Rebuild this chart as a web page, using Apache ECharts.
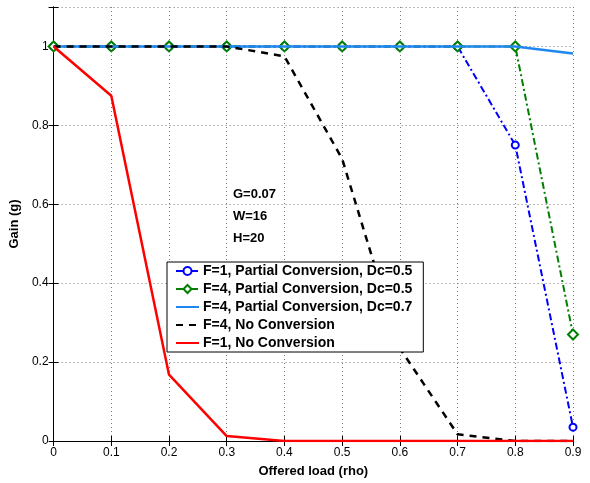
<!DOCTYPE html>
<html>
<head>
<meta charset="utf-8">
<script src="https://cdn.jsdelivr.net/npm/echarts@6/dist/echarts.min.js"></script>
<style>
  html, body { margin: 0; padding: 0; background: #fff; }
  #chart { width: 590px; height: 483px; }
</style>
</head>
<body>
<div id="chart"></div>
<script>
// offered load (rho)
const rho = [0, 0.1, 0.2, 0.3, 0.4, 0.5, 0.6, 0.7, 0.8, 0.9]
const xTicks = ['0', '0.1', '0.2', '0.3', '0.4', '0.5', '0.6', '0.7', '0.8', '0.9']

// gain values per curve
const f1PartialDc05 = [1, 1, 1, 1, 1, 1, 1, 1, 0.75, 0.035]
const f4PartialDc05 = [1, 1, 1, 1, 1, 1, 1, 1, 1, 0.27]
const f4PartialDc07 = [1, 1, 1, 1, 1, 1, 1, 1, 1, 0.982]
const f4NoConv = [1, 1, 1, 1, 0.975, 0.715, 0.235, 0.017, 0, 0]
const f1NoConv = [1, 0.875, 0.168, 0.0125, 0, 0, 0, 0, 0, 0]

const seriesNames = [
  'F=1, Partial Conversion, Dc=0.5',
  'F=4, Partial Conversion, Dc=0.5',
  'F=4, Partial Conversion, Dc=0.7',
  'F=4, No Conversion',
  'F=1, No Conversion'
]

const pairs = (ys) => rho.map((x, i) => [x, ys[i]])

const chart = echarts.init(document.getElementById('chart'))
const font = 'Liberation Sans, Arial, Helvetica, sans-serif'

const gridLine = { show: true, lineStyle: { color: '#777', type: [1, 3], width: 1 } }
// plain line icon in legend (hide the default symbol)
const noSymbol = { color: 'rgba(0,0,0,0)', borderWidth: 0 }

const option = {
  animation: false,
  backgroundColor: '#fff',
  textStyle: { fontFamily: font },
  grid: { left: 51, right: 17, top: 7, bottom: 36 },
  legend: {
    left: 167,
    top: 262,
    z: 20,
    orient: 'vertical',
    backgroundColor: '#fff',
    borderColor: '#000',
    borderWidth: 1,
    borderRadius: 0,
    padding: [2, 11, 2, 8],
    itemGap: 4,
    itemWidth: 23,
    itemHeight: 10,
    data: [
      { name: seriesNames[0] },
      { name: seriesNames[1] },
      { name: seriesNames[2], itemStyle: noSymbol },
      { name: seriesNames[3], itemStyle: noSymbol },
      { name: seriesNames[4], itemStyle: noSymbol }
    ],
    textStyle: { fontSize: 14, fontWeight: 'bold', color: '#000', fontFamily: font, padding: [0, 0, 0, -1] }
  },
  graphic: [
    {
      type: 'text',
      left: 233,
      top: 183,
      style: {
        text: 'G=0.07\nW=16\nH=20',
        font: 'bold 13px ' + font,
        lineHeight: 22,
        fill: '#000'
      }
    }
  ],
  xAxis: [
    {
      type: 'value',
      min: 0,
      max: 0.9,
      interval: 0.1,
      name: 'Offered load (rho)',
      nameLocation: 'middle',
      nameGap: 24,
      nameTextStyle: { fontSize: 13, fontWeight: 'bold', color: '#000' },
      axisLine: { lineStyle: { color: '#000', width: 1 } },
      axisTick: { inside: true, length: 5, lineStyle: { color: '#000' } },
      axisLabel: {
        color: '#000',
        fontSize: 12,
        margin: 6,
        formatter: (v) => xTicks[Math.round(v * 10)]
      },
      splitLine: gridLine
    },
    {
      type: 'value',
      position: 'top',
      min: 0,
      max: 0.9,
      interval: 0.1,
      axisLine: { show: true, lineStyle: { color: '#000', width: 1 } },
      axisTick: { inside: true, length: 5, lineStyle: { color: '#000' } },
      axisLabel: { show: false },
      splitLine: { show: false }
    }
  ],
  yAxis: [
    {
      type: 'value',
      min: 0,
      max: 1.1,
      interval: 0.2,
      name: 'Gain (g)',
      nameLocation: 'middle',
      nameGap: 23,
      nameTextStyle: { fontSize: 13, fontWeight: 'bold', color: '#000' },
      axisLine: { show: true, lineStyle: { color: '#000', width: 1 } },
      axisTick: { inside: true, length: 5, lineStyle: { color: '#000' } },
      axisLabel: {
        color: '#000',
        fontSize: 12,
        margin: 5,
        formatter: (v) => (v > 1.05 ? '' : String(Math.round(v * 10) / 10))
      },
      splitLine: gridLine
    },
    {
      type: 'value',
      position: 'right',
      min: 0,
      max: 1.1,
      interval: 0.2,
      axisLine: { show: true, lineStyle: { color: '#000', width: 1 } },
      axisTick: { inside: true, length: 5, lineStyle: { color: '#000' } },
      axisLabel: { show: false },
      splitLine: { show: false }
    }
  ],
  series: [
    {
      name: seriesNames[0],
      type: 'line',
      data: pairs(f1PartialDc05),
      symbol: 'circle',
      symbolSize: 7,
      itemStyle: { color: '#fff', borderColor: '#0000ff', borderWidth: 2 },
      lineStyle: { color: '#0000ff', width: 2, type: [7, 3, 2, 3] },
      z: 2
    },
    {
      name: seriesNames[1],
      type: 'line',
      data: pairs(f4PartialDc05),
      symbol: 'diamond',
      symbolSize: 10,
      itemStyle: { color: '#fff', borderColor: '#007f00', borderWidth: 2 },
      lineStyle: { color: '#007f00', width: 2, type: [7, 3, 2, 3] },
      z: 3
    },
    {
      name: seriesNames[2],
      type: 'line',
      data: pairs(f4PartialDc07),
      symbol: 'none',
      itemStyle: { color: '#1e88f0' },
      lineStyle: { color: '#1e88f0', width: 2.5 },
      z: 4
    },
    {
      name: seriesNames[3],
      type: 'line',
      data: pairs(f4NoConv),
      symbol: 'none',
      itemStyle: { color: '#000' },
      lineStyle: { color: '#000', width: 2.5, type: [7, 6] },
      z: 5
    },
    {
      name: seriesNames[4],
      type: 'line',
      data: pairs(f1NoConv),
      symbol: 'none',
      itemStyle: { color: '#ff0000' },
      lineStyle: { color: '#ff0000', width: 2.5 },
      z: 6
    }
  ]
}

chart.setOption(option)
</script>
</body>
</html>
